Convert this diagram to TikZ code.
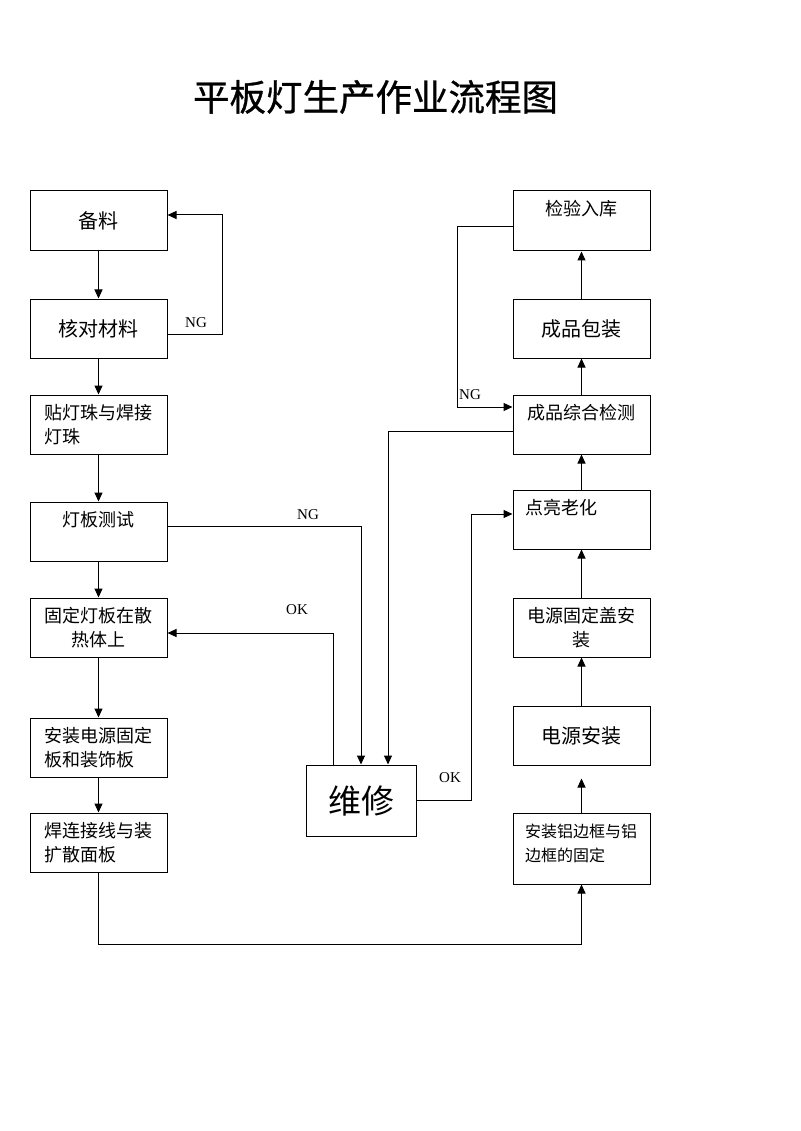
\documentclass[tikz,border=0pt]{standalone}
\usepackage{fontspec}
\setmainfont{Liberation Serif}
\newfontfamily\cjk{Noto Sans CJK SC}
\newfontfamily\cjkbold[FakeBold=0.8]{Noto Sans CJK SC}
\usetikzlibrary{arrows.meta}
\begin{document}
\begin{tikzpicture}[x=1pt,y=-1pt,
  box/.style={draw, line width=1pt, minimum width=137pt, minimum height=59pt, inner sep=0pt, align=center},
  fA/.style={font=\cjk\fontsize{20}{24}\selectfont},
  fB/.style={font=\cjk\fontsize{18}{24}\selectfont},
  fC/.style={font=\cjk\fontsize{16}{24}\selectfont},
  lbl/.style={font=\fontsize{15}{16}\selectfont, inner sep=0pt},
  arr/.style={line width=1pt, -{Triangle[length=9pt,width=8pt]}},
  ln/.style={line width=1pt}]
\useasboundingbox (0,0) rectangle (800,1131);

\node[font=\cjkbold\fontsize{36.5}{40}\selectfont, inner sep=0pt] (title) at (375.5,97) {平板灯生产作业流程图};

% left column
\node[box, minimum height=60pt, fA] (b1) at (98.5,221) {备料};
\node[box, fA] (b2) at (98.5,328.5) {核对材料};
\node[box, fB, align=left] (b3) at (98.5,424.5) {贴灯珠与焊接\\灯珠};
\node[box] (b4) at (98.5,531.5) {};
\node[fB] (b4t) at (98.5,520) {灯板测试};
\node[box, fB, align=center] (b5) at (98.5,627.5) {固定灯板在散\\热体上};
\node[box, fB, align=left] (b6) at (98.5,747.5) {安装电源固定\\板和装饰板};
\node[box, fB, align=left] (b7) at (98.5,842.5) {焊连接线与装\\扩散面板};

% repair
\node[box, minimum width=110pt, minimum height=71pt, font=\cjk\fontsize{33}{36}\selectfont] (w) at (361,800.5) {维修};

% right column
\node[box, minimum height=60pt] (r1) at (581.5,221) {};
\node[fB] (r1t) at (581.5,209) {检验入库};
\node[box, fA] (r2) at (581.5,328.5) {成品包装};
\node[box] (r3) at (581.5,424.5) {};
\node[fB] (r3t) at (581.5,413) {成品综合检测};
\node[box] (r4) at (581.5,519.5) {};
\node[fB, anchor=west, inner sep=0pt] (r4t) at (525,508) {点亮老化};
\node[box, fB, align=center] (r5) at (581.5,627.5) {电源固定盖安\\装};
\node[box, fA] (r6) at (581.5,735.5) {电源安装};
\node[box, minimum height=71pt] (r7) at (581.5,848.5) {};
\node[fC, align=left, anchor=west, inner sep=0pt] (r7t) at (525,843) {安装铝边框与铝\\边框的固定};

% left chain
\draw[arr] (b1) -- (b2);
\draw[arr] ([yshift=-5.5pt]b2.east) -- ++(55,0) |- ([yshift=6pt]b1.east);
\node[lbl] (ng1) at (196,323) {NG};
\draw[arr] (b2) -- (b3);
\draw[arr] (b3) -- (b4);
\draw[arr] ([yshift=5.5pt]b4.east) -| (w.north);
\node[lbl] (ng2) at (308,515) {NG};
\draw[arr] (b4) -- (b5);
\draw[arr] ([xshift=-28pt]w.north) |- ([yshift=-5.5pt]b5.east);
\node[lbl] (ok1) at (297,610) {OK};
\draw[arr] (b5) -- (b6);
\draw[arr] (b6) -- (b7);
\draw[arr] (b7.south) -- ++(0,72) -| (r7.south);

% right chain
\draw[arr, shorten >=13pt] (r7) -- (r6);
\draw[arr] (r6) -- (r5);
\draw[arr] (r5) -- (r4);
\draw[arr] (r4) -- (r3);
\draw[arr] (r3) -- (r2);
\draw[arr] (r2) -- (r1);
\draw[arr] ([yshift=-6pt]r1.west) -- ++(-55,0) |- ([yshift=17.5pt]r3.west);
\node[lbl] (ng3) at (470,395) {NG};
\draw[arr] ([yshift=-6.5pt]r3.west) -| ([xshift=27pt]w.north);
\draw[arr] (w.east) -- ++(55,0) |- ([yshift=5.5pt]r4.west);
\node[lbl] (ok2) at (450,778) {OK};
\end{tikzpicture}
\end{document}
